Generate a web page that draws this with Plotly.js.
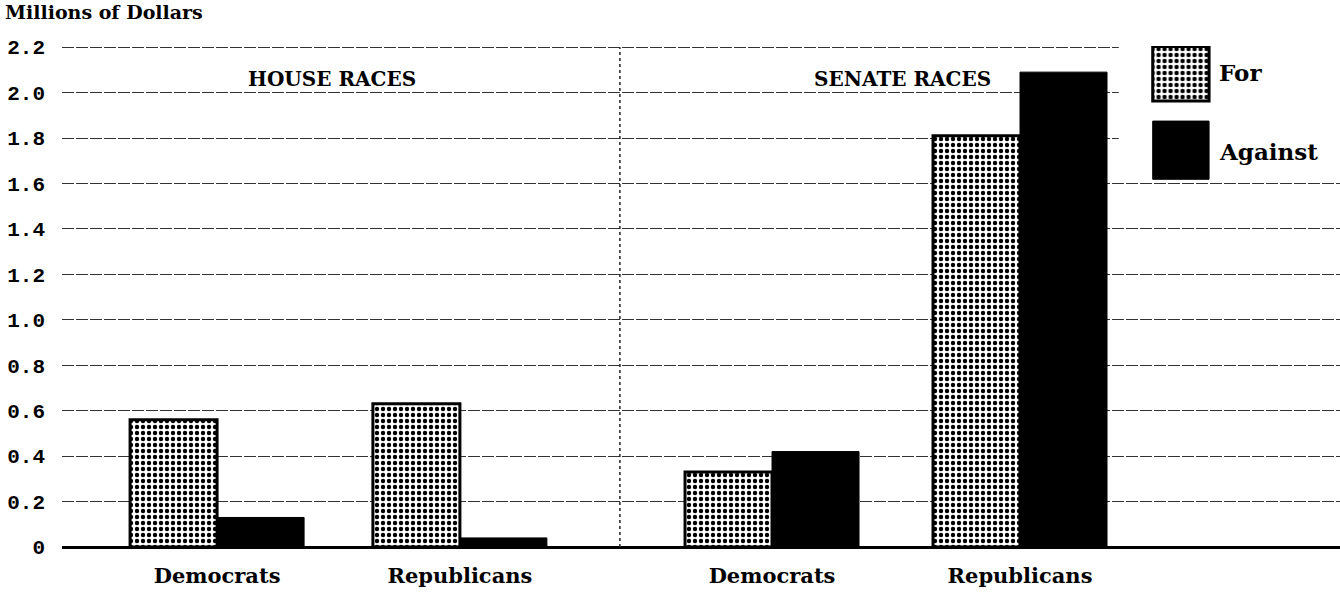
<!DOCTYPE html>
<html>
<head>
<meta charset="utf-8">
<script src="https://cdn.plot.ly/plotly-3.0.1.min.js"></script>
<style>html,body{margin:0;padding:0;background:#fff;}#chart{width:1340px;height:593px;}</style>
</head>
<body>
<div id="chart"></div>
<script>
// ---- data ----
const groupPositions = [0.631, 1.619, 2.889, 3.898];
const groupLabels = ["Democrats", "Republicans", "Democrats", "Republicans"];
const forValues = [0.56, 0.63, 0.33, 1.81];
const againstValues = [0.13, 0.04, 0.42, 2.09];
const sectionLabels = ["HOUSE RACES", "SENATE RACES"];
const sectionCenters = [1.1, 3.42];
const dividerX = 2.27;
const yTicks = [0, 0.2, 0.4, 0.6, 0.8, 1.0, 1.2, 1.4, 1.6, 1.8, 2.0, 2.2];
const yTickText = ["0", "0.2", "0.4", "0.6", "0.8", "1.0", "1.2", "1.4", "1.6", "1.8", "2.0", "2.2"];
const legendNames = ["For", "Against"];

const serif = "DejaVu Serif, serif";
const barW = 0.354;

const forPattern = {shape: ".", fgcolor: "#000", bgcolor: "#fff", size: 6, solidity: 0.42, fillmode: "replace"};

const traces = [
  {
    type: "bar", name: legendNames[0], x: groupPositions, y: forValues,
    width: barW, offset: -barW,
    marker: {color: "#fff", pattern: forPattern, line: {color: "#000", width: 3}},
    showlegend: false, hoverinfo: "skip"
  },
  {
    type: "bar", name: legendNames[1], x: groupPositions, y: againstValues,
    width: barW, offset: 0,
    marker: {color: "#000", line: {color: "#000", width: 1}},
    showlegend: false, hoverinfo: "skip"
  },
  // legend swatches on a small overlay axis
  {
    type: "bar", x: [0.5], y: [0.40], base: [0.596], width: 0.9, offset: -0.45,
    xaxis: "x2", yaxis: "y2",
    marker: {color: "#fff", pattern: forPattern, line: {color: "#000", width: 3}},
    showlegend: false, hoverinfo: "skip"
  },
  {
    type: "bar", x: [0.5], y: [0.427], base: [0.022], width: 0.9, offset: -0.45,
    xaxis: "x2", yaxis: "y2",
    marker: {color: "#000", line: {color: "#000", width: 1}},
    showlegend: false, hoverinfo: "skip"
  }
];

const annotations = [
  {xref: "paper", yref: "paper", x: -0.046, y: 1.068, xanchor: "left", yanchor: "middle",
   text: "<b>Millions of Dollars</b>", showarrow: false, font: {family: serif, size: 19, color: "#000"}},
  {xref: "x", yref: "y", x: sectionCenters[0], y: 2.06, text: "<b>" + sectionLabels[0] + "</b>",
   showarrow: false, font: {family: serif, size: 20, color: "#000"}},
  {xref: "x", yref: "y", x: sectionCenters[1], y: 2.06, text: "<b>" + sectionLabels[1] + "</b>",
   showarrow: false, font: {family: serif, size: 20, color: "#000"}},
  {xref: "paper", yref: "paper", x: 0.904, y: 0.948, xanchor: "left", yanchor: "middle",
   text: "<b>" + legendNames[0] + "</b>", showarrow: false, font: {family: serif, size: 23, color: "#000"}},
  {xref: "paper", yref: "paper", x: 0.904, y: 0.79, xanchor: "left", yanchor: "middle",
   text: "<b>" + legendNames[1] + "</b>", showarrow: false, font: {family: serif, size: 23, color: "#000"}}
];

const shapes = [
  // white patch hiding gridlines behind legend
  {type: "rect", xref: "x", yref: "y", x0: 4.3, x1: 5.2, y0: 1.61, y1: 2.25, layer: "between",
   fillcolor: "#fff", line: {width: 0}},
  // divider
  {type: "line", xref: "x", yref: "y", x0: dividerX, x1: dividerX, y0: 0, y1: 2.2,
   line: {color: "#222", width: 1.5, dash: "dot"}}
];

const layout = {
  width: 1340, height: 593,
  margin: {l: 62, r: 0, t: 46, b: 46},
  paper_bgcolor: "#fff", plot_bgcolor: "#fff",
  barmode: "group",
  showlegend: false,
  xaxis: {
    range: [0, 5.2], tickvals: groupPositions, ticktext: groupLabels.map(s => "<b>" + s + "</b>"),
    showgrid: false, zeroline: false, showline: false, ticks: "",
    tickfont: {family: serif, size: 21, color: "#000"}, ticklabelstandoff: 14, fixedrange: true
  },
  yaxis: {
    range: [0, 2.205], tickvals: yTicks, ticktext: yTickText.map(s => "<b>" + s + "</b>"),
    showgrid: true, gridcolor: "#333", gridwidth: 1, griddash: "12px,2px",
    zeroline: true, zerolinecolor: "#000", zerolinewidth: 3,
    showline: false, ticks: "", ticklabelstandoff: 16,
    tickfont: {family: "Liberation Mono, monospace", size: 21, color: "#000"}, fixedrange: true
  },
  xaxis2: {domain: [0.851, 0.900], range: [0, 1], anchor: "y2", visible: false, fixedrange: true},
  yaxis2: {domain: [0.728, 1.0], range: [0, 1], anchor: "x2", visible: false, fixedrange: true},
  annotations: annotations,
  shapes: shapes
};

Plotly.newPlot("chart", traces, layout, {displayModeBar: false, staticPlot: true});
</script>
</body>
</html>
